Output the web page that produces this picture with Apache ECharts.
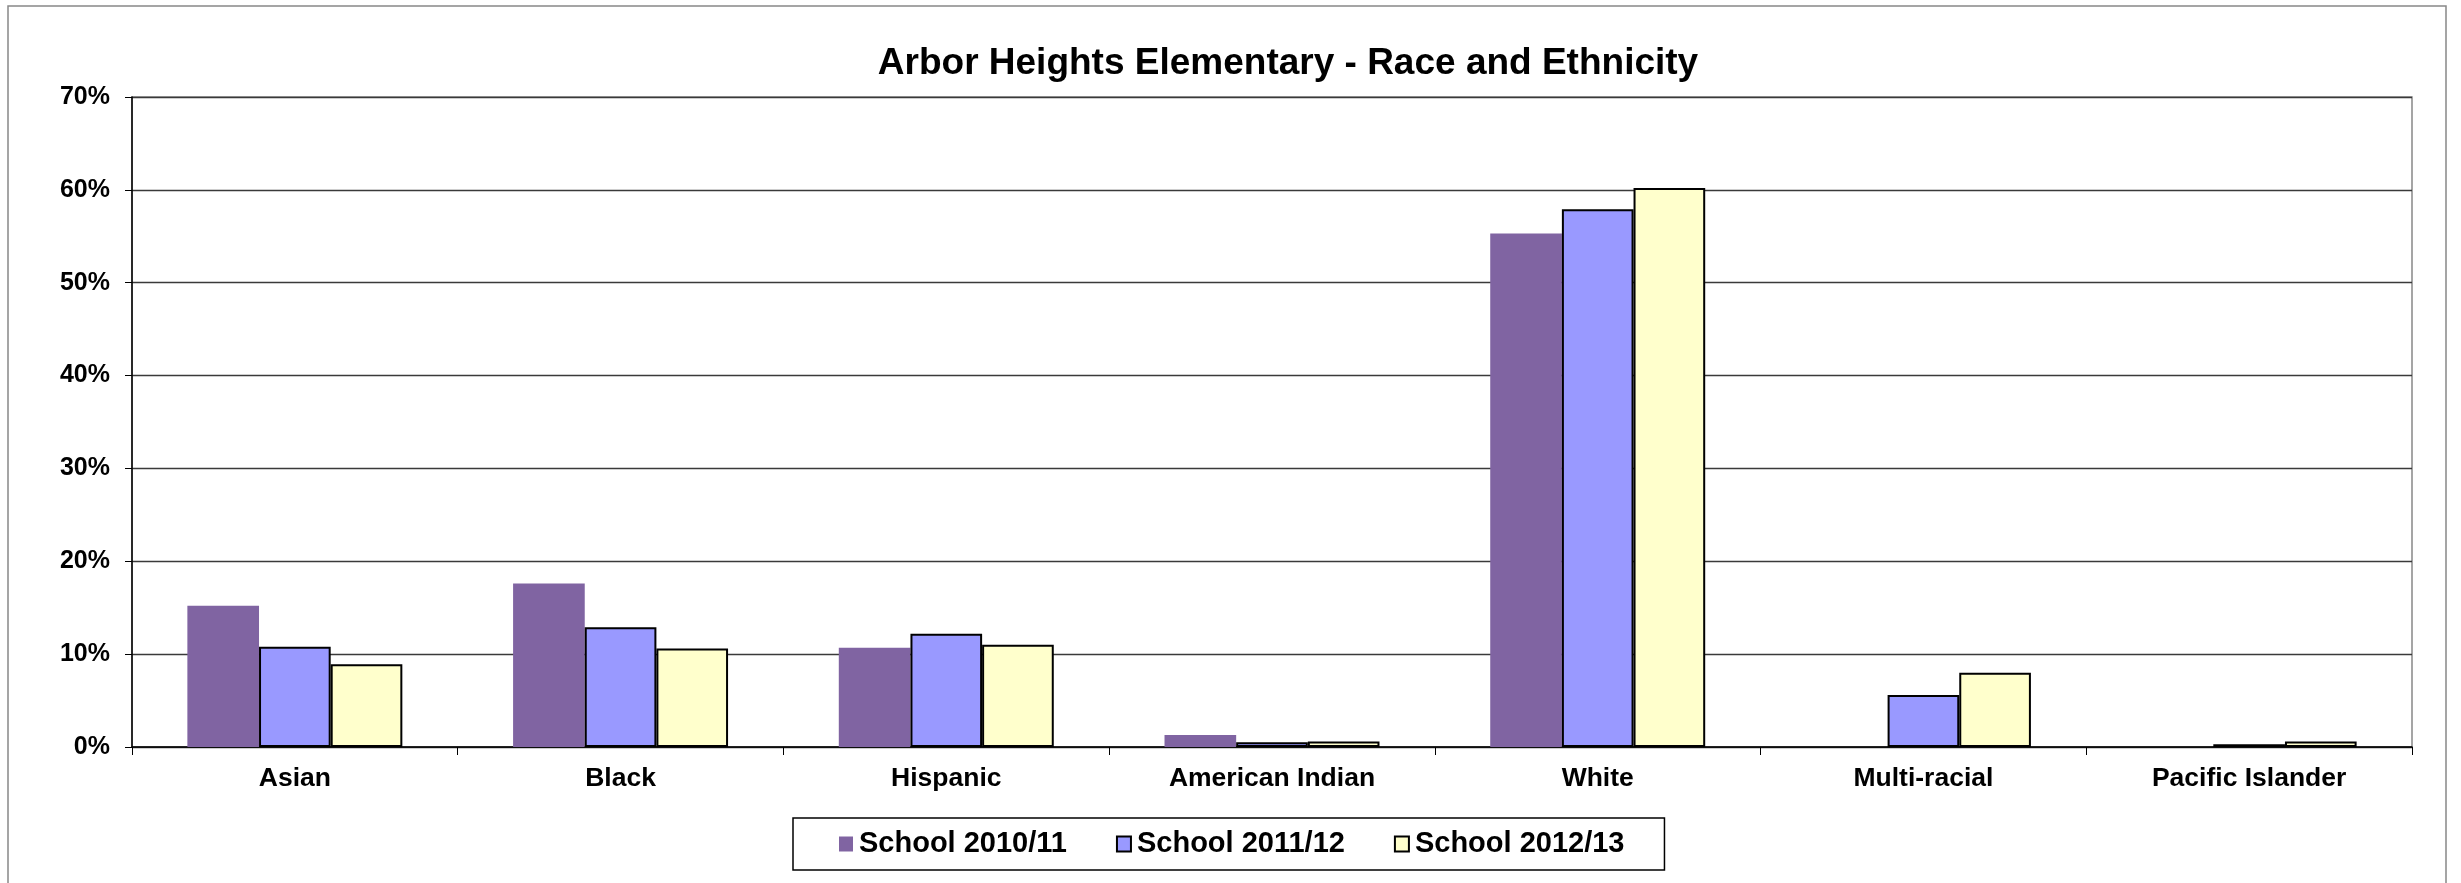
<!DOCTYPE html>
<html>
<head>
<meta charset="utf-8">
<script src="https://cdn.jsdelivr.net/npm/echarts@6/dist/echarts.min.js"></script>
<style>
html,body{margin:0;padding:0;background:#fff;}
#chart{width:2461px;height:883px;}
</style>
</head>
<body>
<div id="chart"></div>
<script>
const categories = ['Asian', 'Black', 'Hispanic', 'American Indian', 'White', 'Multi-racial', 'Pacific Islander'];
const seriesNames = ['School 2010/11', 'School 2011/12', 'School 2012/13'];
const school2010 = [15.2, 17.6, 10.7, 1.3, 55.3, null, null];
const school2011 = [10.8, 12.9, 12.2, 0.5, 57.9, 5.6, 0.3];
const school2012 = [8.9, 10.6, 11.0, 0.6, 60.2, 8.0, 0.6];
const yTicks = [0, 10, 20, 30, 40, 50, 60, 70];

const FONT = '"Liberation Sans", Arial, sans-serif';
const chart = echarts.init(document.getElementById('chart'), null, {renderer: 'canvas'});

const colors = ['#8064A2', '#9999FF', '#FFFFCC'];
const borders = [{c: '#8064A2', w: 0}, {c: '#000', w: 2}, {c: '#000', w: 2}];
const dataSets = [school2010, school2011, school2012];

chart.setOption({
  animation: false,
  backgroundColor: '#fff',
  title: {
    text: 'Arbor Heights Elementary - Race and Ethnicity',
    left: 1283, top: 40, textAlign: 'center',
    textStyle: {fontFamily: FONT, fontWeight: 'bold', fontSize: 37, color: '#000'}
  },
  graphic: [{
    type: 'rect', shape: {x: 8, y: 6, width: 2438, height: 900},
    style: {fill: 'none', stroke: '#888', lineWidth: 1.5}, silent: true
  }],
  legend: {
    left: 793, top: 818,
    data: seriesNames,
    icon: 'rect', itemWidth: 14, itemHeight: 15, itemGap: 49,
    padding: [11, 40, 11, 46],
    borderColor: '#000', borderWidth: 1.5,
    textStyle: {fontFamily: FONT, fontWeight: 'bold', fontSize: 29, lineHeight: 30, color: '#000', padding: [0, 0, 0, 1]}
  },
  grid: {
    left: 132, right: 49, top: 97, bottom: 136,
    show: true, borderColor: '#888', borderWidth: 1.5, backgroundColor: '#fff'
  },
  xAxis: {
    type: 'category', data: categories,
    axisLine: {lineStyle: {color: '#000', width: 1.5}},
    axisTick: {show: true, length: 8, lineStyle: {color: '#000', width: 1}},
    axisLabel: {margin: 18, fontFamily: FONT, fontWeight: 'bold', fontSize: 26.5, color: '#000'}
  },
  yAxis: {
    type: 'value', min: yTicks[0], max: yTicks[yTicks.length - 1], interval: 10,
    axisLine: {show: true, lineStyle: {color: '#000', width: 1.5}},
    axisTick: {show: true, length: 7, lineStyle: {color: '#000', width: 1}},
    axisLabel: {margin: 22, fontFamily: FONT, fontWeight: 'bold', fontSize: 25, color: '#000', formatter: '{value}%'},
    splitLine: {lineStyle: {color: '#3a3a3a', width: 1.3}}
  },
  series: seriesNames.map((name, i) => ({
    name: name, type: 'bar', data: dataSets[i],
    barGap: '0%', barCategoryGap: '34%',
    itemStyle: {color: colors[i], borderColor: borders[i].c, borderWidth: borders[i].w}
  }))
});
</script>
</body>
</html>
